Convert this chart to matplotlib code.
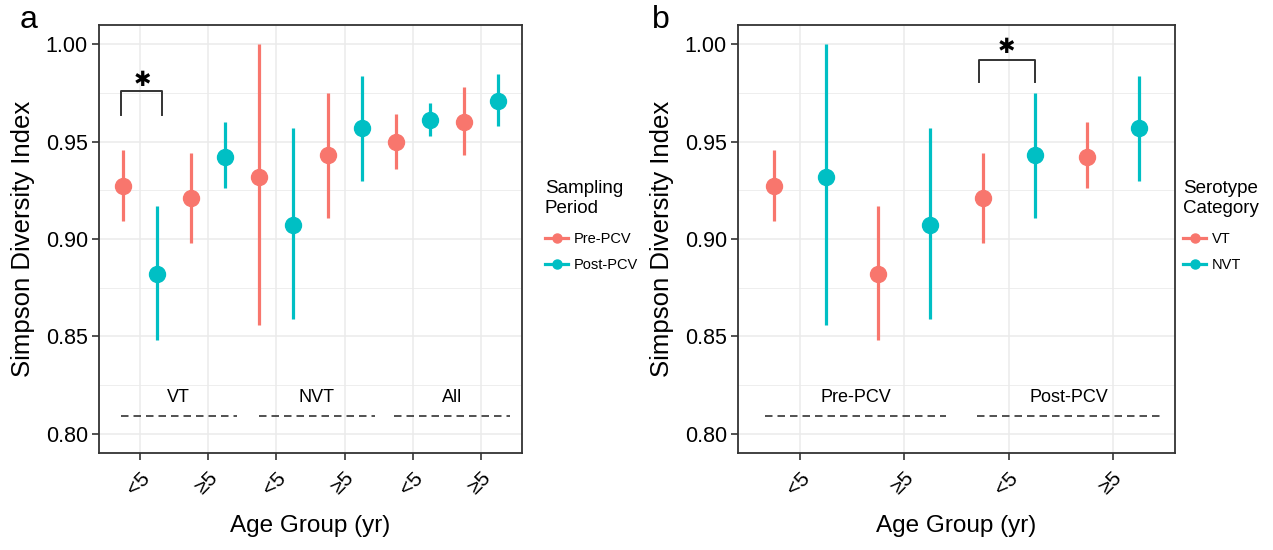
#!/usr/bin/env python3
"""Simpson diversity index by age group, two panels (a: by serotype group, b: by period)."""
import matplotlib
matplotlib.use("Agg")
import matplotlib.pyplot as plt
from matplotlib.lines import Line2D
from matplotlib.ticker import MultipleLocator

plt.rcParams["font.family"] = ["Liberation Sans", "DejaVu Sans"]

RED = "#F8766D"
TEAL = "#00BFC4"
GRID = "#EBEBEB"
FRAME = "#333333"

# panel a: x = serotype group x age group, colour = sampling period
age_a = ["<5", "≥5", "<5", "≥5", "<5", "≥5"]
groups_a = ["VT", "NVT", "All"]
pre_mean_a = [0.927, 0.921, 0.932, 0.943, 0.950, 0.960]
pre_lo_a = [0.909, 0.898, 0.856, 0.911, 0.936, 0.943]
pre_hi_a = [0.946, 0.944, 1.000, 0.975, 0.964, 0.978]
post_mean_a = [0.882, 0.942, 0.907, 0.957, 0.961, 0.971]
post_lo_a = [0.848, 0.926, 0.859, 0.930, 0.953, 0.958]
post_hi_a = [0.917, 0.960, 0.957, 0.984, 0.970, 0.985]

# panel b: x = period x age group, colour = serotype category
age_b = ["<5", "≥5", "<5", "≥5"]
groups_b = ["Pre-PCV", "Post-PCV"]
vt_mean_b = [0.927, 0.882, 0.921, 0.942]
vt_lo_b = [0.909, 0.848, 0.898, 0.926]
vt_hi_b = [0.946, 0.917, 0.944, 0.960]
nvt_mean_b = [0.932, 0.907, 0.943, 0.957]
nvt_lo_b = [0.856, 0.859, 0.911, 0.930]
nvt_hi_b = [1.000, 0.957, 0.975, 0.984]

DODGE = 0.25


def style_axes(ax, labels):
    n = len(labels)
    ax.set_xlim(0.4, n + 0.6)
    ax.set_ylim(0.79, 1.01)
    ax.set_xticks(range(1, n + 1))
    ax.set_xticklabels(labels, rotation=45, ha="right", va="top",
                       rotation_mode="anchor")
    ax.yaxis.set_major_locator(MultipleLocator(0.05))
    ax.yaxis.set_minor_locator(MultipleLocator(0.025))
    ax.yaxis.set_major_formatter(lambda v, p: f"{v:.2f}")
    ax.tick_params(axis="y", which="minor", length=0)
    ax.tick_params(axis="both", which="major", length=5, width=1.2,
                   color=FRAME, labelsize=15.5, labelcolor="black", pad=3)
    ax.tick_params(axis="x", pad=6, labelsize=15)
    ax.grid(True, which="major", color=GRID, linewidth=1.1, zorder=0)
    ax.grid(True, which="minor", axis="y", color=GRID, linewidth=0.6, zorder=0)
    ax.set_axisbelow(True)
    for sp in ax.spines.values():
        sp.set_color(FRAME)
        sp.set_linewidth(1.3)
    ax.set_ylabel("Simpson Diversity Index", fontsize=18.5, labelpad=8)
    ax.set_xlabel("Age Group (yr)", fontsize=17.5, labelpad=12)


def draw_series(ax, mean, lo, hi, offset, color):
    xs = [i + 1 + offset for i in range(len(mean))]
    ax.vlines(xs, lo, hi, color=color, linewidth=2.3, zorder=3)
    ax.plot(xs, mean, "o", color=color, markersize=11.5, zorder=4)


def bracket(ax, x0, x1, ytop, ybot, xstar, ystar):
    ax.plot([x0, x0, x1, x1], [ybot, ytop, ytop, ybot], color=FRAME,
            linewidth=1.4, zorder=5)
    ax.text(xstar, ystar, "✱", ha="center", va="center", fontsize=15,
            family="DejaVu Sans", color="black")


def group_markers(ax, labels, spans):
    for lab, (x0, x1) in zip(labels, spans):
        ax.plot([x0, x1], [0.8092, 0.8092], color=FRAME, linewidth=1.2,
                dashes=(4.5, 3), zorder=2)
        ax.text((x0 + x1) / 2, 0.8185, lab, ha="center", va="center",
                fontsize=13)


def legend(ax, title, names, anchor):
    handles = [Line2D([0], [0], color=c, linewidth=2.3, marker="o",
                      markersize=6.5) for c in (RED, TEAL)]
    leg = ax.legend(handles, names, title=title, loc="upper left",
                    bbox_to_anchor=anchor, bbox_transform=ax.figure.transFigure,
                    frameon=False, fontsize=10.5, title_fontsize=13.5,
                    handlelength=1.6, handletextpad=0.4, labelspacing=0.85,
                    borderaxespad=0, borderpad=0)
    leg._legend_box.align = "left"
    leg._legend_box.sep = 11


fig = plt.figure(figsize=(12.73, 5.5), dpi=100)
ax_a = fig.add_axes([99 / 1273, 1 - 453 / 550, 423 / 1273, 428 / 550])
ax_b = fig.add_axes([738 / 1273, 1 - 453 / 550, 437 / 1273, 428 / 550])

style_axes(ax_a, age_a)
draw_series(ax_a, pre_mean_a, pre_lo_a, pre_hi_a, -DODGE, RED)
draw_series(ax_a, post_mean_a, post_lo_a, post_hi_a, DODGE, TEAL)
bracket(ax_a, 0.72, 1.33, 0.9759, 0.9635, 1.04, 0.9818)
group_markers(ax_a, groups_a, [(0.72, 2.42), (2.74, 4.45), (4.72, 6.43)])
legend(ax_a, "Sampling\nPeriod", ["Pre-PCV", "Post-PCV"],
       (545 / 1273, 1 - 180 / 550))

style_axes(ax_b, age_b)
draw_series(ax_b, vt_mean_b, vt_lo_b, vt_hi_b, -DODGE, RED)
draw_series(ax_b, nvt_mean_b, nvt_lo_b, nvt_hi_b, DODGE, TEAL)
bracket(ax_b, 2.72, 3.25, 0.9921, 0.9805, 2.98, 0.9985)
group_markers(ax_b, groups_b, [(0.66, 2.40), (2.70, 4.46)])
legend(ax_b, "Serotype\nCategory", ["VT", "NVT"],
       (1183 / 1273, 1 - 180 / 550))

fig.text(20 / 1273, 1 - 20 / 550, "a", fontsize=23, va="center", ha="left")
fig.text(652 / 1273, 1 - 20 / 550, "b", fontsize=23, va="center", ha="left")

fig.savefig("out.png", dpi=100)
